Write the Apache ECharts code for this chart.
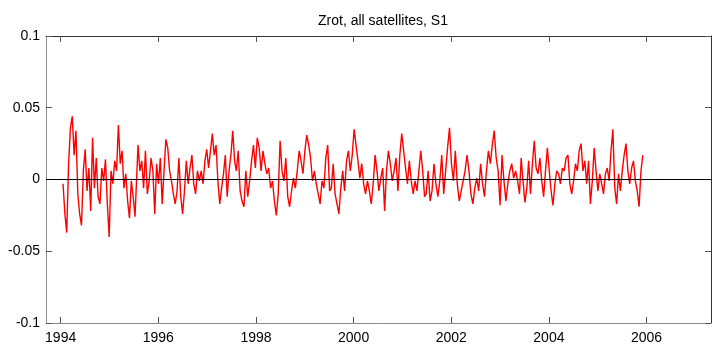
<!DOCTYPE html>
<html>
<head>
<meta charset="utf-8">
<script src="https://cdn.jsdelivr.net/npm/echarts@6/dist/echarts.min.js"></script>
<style>
html,body{margin:0;padding:0;background:#fff;}
#chart{width:713px;height:347px;}
</style>
</head>
<body>
<div id="chart"></div>
<script>
// Title and tick labels
var titleText = 'Zrot, all satellites, S1';
var xTicks = [1994, 1996, 1998, 2000, 2002, 2004, 2006];
var yTicks = [-0.1, -0.05, 0, 0.05, 0.1];

// Series values in six consecutive time segments
// [startYear, endYear] of each segment
var seg1Span = [1994.049, 1995.523];
var seg1 = [-0.003,-0.024,-0.037,0.011,0.036,0.044,0.017,0.034,-0.010,-0.024,-0.032,0.006,0.021,-0.008,0.008,-0.022,0.029,-0.006,0.015,-0.012,-0.017,0.008,-0.001,0.014,-0.017,-0.040,0.006,-0.003,0.013,0.006,0.038,0.011,0.020,-0.006,0.004,-0.015,-0.027,-0.001,-0.012,-0.026];

var seg2Span = [1995.585, 1997.563];
var seg2 = [0.024,0.006,0.013,-0.006,0.020,-0.010,-0.001,0.015,0.006,-0.024,0.011,-0.003,0.015,-0.017,0.006,0.028,0.022,0.006,-0.001,-0.010,-0.017,-0.008,0.015,-0.012,-0.024,-0.008,0.013,-0.003,0.008,0.017,-0.003,-0.010,0.006,-0.001,0.006,-0.003,0.013,0.021,0.008,0.020,0.032,0.017,0.024,-0.001,-0.017,-0.006,0.004,0.017,-0.012,0.006,0.017,0.034,0.013];

var seg3Span = [1997.598, 1999.509];
var seg3 = [0.006,0.020,-0.008,-0.015,-0.019,0.006,-0.012,-0.001,0.013,0.024,0.008,0.029,0.022,0.006,0.020,0.011,0.004,0.008,-0.006,-0.001,-0.015,-0.025,-0.010,0.027,0.006,-0.001,0.015,-0.012,-0.019,-0.008,0.001,-0.006,0.006,0.020,0.013,0.004,0.020,0.031,0.024,0.015,-0.001,0.006,-0.003,-0.010,-0.017,-0.001,-0.006,0.015,0.024,-0.008];

var seg4Span = [1999.543, 2001.454];
var seg4 = [-0.006,0.011,-0.010,-0.017,-0.024,-0.006,0.006,-0.008,0.013,0.020,0.006,0.017,0.035,0.024,0.013,0.001,0.011,-0.003,-0.010,-0.001,-0.008,-0.017,-0.003,0.017,0.006,-0.008,0.001,0.008,-0.022,0.006,0.020,0.011,-0.001,0.006,0.015,-0.008,0.017,0.032,0.020,0.008,-0.003,0.013,-0.001,-0.010,-0.001,-0.008,0.006,0.020,0.006,-0.012];

var seg5Span = [2001.487, 2003.398];
var seg5 = [-0.010,0.006,-0.015,-0.008,0.011,-0.003,-0.012,-0.001,0.017,-0.010,0.006,0.022,0.036,0.011,-0.001,0.020,-0.003,-0.015,-0.008,-0.001,0.006,0.017,0.006,-0.010,-0.017,-0.006,0.001,-0.008,0.011,-0.003,-0.012,0.006,0.020,0.011,0.024,0.034,0.015,0.006,-0.018,0.017,-0.001,-0.015,-0.003,0.006,0.011,0.001,0.006,-0.001,-0.010];

var seg6Span = [2003.432, 2005.924];
var seg6 = [0.015,-0.001,-0.016,-0.006,0.013,-0.010,0.011,0.027,0.008,0.004,0.015,-0.001,-0.012,0.006,0.022,0.006,-0.008,-0.018,-0.003,0.006,0.004,-0.003,0.008,0.006,0.015,0.017,-0.003,-0.010,-0.001,0.011,0.006,0.020,0.025,0.006,0.013,-0.003,0.013,-0.017,-0.001,0.022,0.006,-0.008,0.004,-0.003,-0.010,0.004,0.008,-0.001,0.020,0.035,-0.006,-0.017,0.004,-0.008,0.006,0.017,0.025,0.006,-0.003,0.008,0.013,-0.001,-0.008,-0.019,0.006,0.017];

var segments = [[seg1Span, seg1],[seg2Span, seg2],[seg3Span, seg3],[seg4Span, seg4],[seg5Span, seg5],[seg6Span, seg6]];
var data = [];
segments.forEach(function(s){
  var a = s[0][0], b = s[0][1], vals = s[1], n = vals.length;
  for (var i = 0; i < n; i++) {
    data.push([a + (b - a) * i / (n - 1), vals[i]]);
  }
});

var font = '"Liberation Sans", Arial, Helvetica, sans-serif';
var chart = echarts.init(document.getElementById('chart'), null, {renderer: 'canvas'});
chart.setOption({
  animation: false,
  backgroundColor: '#fff',
  title: {
    text: titleText, left: 378, top: 9, textAlign: 'center',
    textStyle: {fontFamily: font, fontSize: 14, fontWeight: 'normal', color: '#000'}
  },
  grid: {left: 46, right: 2, top: 36, bottom: 24, containLabel: false},
  xAxis: [{
    type: 'value', min: 1993.7, max: 2007.32, position: 'bottom',
    axisLine: {show: true, onZero: false, lineStyle: {color: '#8c8c8c', width: 1}},
    axisTick: {show: true, inside: true, length: 6, customValues: xTicks, lineStyle: {color: '#555'}},
    axisLabel: {show: true, customValues: xTicks, margin: 8, fontFamily: font, fontSize: 14, color: '#000',
      formatter: function(v){ return String(Math.round(v)); }},
    splitLine: {show: false}
  }, {
    type: 'value', min: 1993.7, max: 2007.32, position: 'top',
    axisLine: {show: true, onZero: false, lineStyle: {color: '#333', width: 1}},
    axisTick: {show: true, inside: true, length: 6, customValues: xTicks, lineStyle: {color: '#555'}},
    axisLabel: {show: false},
    splitLine: {show: false}
  }],
  yAxis: [{
    type: 'value', min: -0.1, max: 0.1, interval: 0.05, position: 'left',
    axisLine: {show: true, onZero: false, lineStyle: {color: '#8c8c8c', width: 1}},
    axisTick: {show: true, inside: true, length: 6, lineStyle: {color: '#555'}},
    axisLabel: {show: true, margin: 6, fontFamily: font, fontSize: 14, color: '#000'},
    splitLine: {show: false}
  }, {
    type: 'value', min: -0.1, max: 0.1, interval: 0.05, position: 'right',
    axisLine: {show: true, onZero: false, lineStyle: {color: '#333', width: 1}},
    axisTick: {show: true, inside: true, length: 6, lineStyle: {color: '#555'}},
    axisLabel: {show: false},
    splitLine: {show: false}
  }],
  series: [{
    type: 'line', xAxisIndex: 0, yAxisIndex: 0,
    data: data, showSymbol: false, symbol: 'none', smooth: false,
    lineStyle: {color: '#ff0000', width: 1.4},
    markLine: {
      silent: true, symbol: 'none', label: {show: false},
      lineStyle: {color: '#000', width: 1, type: 'solid'},
      data: [{yAxis: 0}]
    },
    z: 2
  }]
});
</script>
</body>
</html>
